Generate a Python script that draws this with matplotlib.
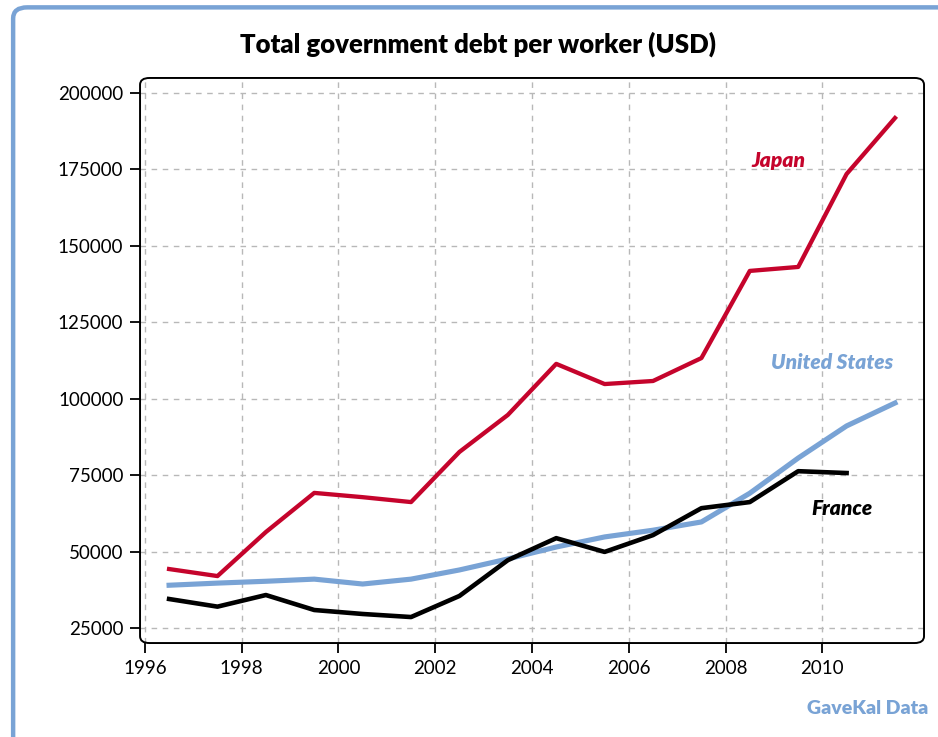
import matplotlib.pyplot as plt
from matplotlib.patches import FancyBboxPatch

# --- data (USD per worker) ---
years = [1996.5, 1997.5, 1998.5, 1999.5, 2000.5, 2001.5, 2002.5, 2003.5,
         2004.5, 2005.5, 2006.5, 2007.5, 2008.5, 2009.5, 2010.5, 2011.5]
japan = [44300, 42000, 56400, 69200, 67800, 66200, 82600, 94700,
         111400, 104800, 105800, 113300, 141800, 143100, 173500, 191800]
usa = [39000, 39700, 40300, 41000, 39400, 41000, 44000, 47600,
       51500, 54800, 57000, 59700, 69100, 80600, 91100, 98600]
france_years = years[:15]
france = [34500, 32000, 35800, 30900, 29600, 28600, 35500, 47200,
          54400, 49900, 55400, 64200, 66200, 76300, 75700]

xticks = [1996, 1998, 2000, 2002, 2004, 2006, 2008, 2010]
yticks = [25000, 50000, 75000, 100000, 125000, 150000, 175000, 200000]

RED = '#c5042c'
BLUE = '#79a3d5'
BLACK = '#000000'

plt.rcParams['font.family'] = ['Lato', 'DejaVu Sans']

fig = plt.figure(figsize=(9.38, 7.37), dpi=100)

# outer rounded frame
frame = FancyBboxPatch((0.014, -0.05), 1.2, 1.04, transform=fig.transFigure,
                       boxstyle='round,pad=0,rounding_size=0.015',
                       fill=False, edgecolor=BLUE, linewidth=3.2, clip_on=False)
fig.patches.append(frame)

ax = fig.add_axes([0.1493, 0.1275, 0.8358, 0.7667])

ax.plot(years, japan, color=RED, lw=3.1, zorder=3)
ax.plot(years, usa, color=BLUE, lw=3.7, zorder=3)
ax.plot(france_years, france, color=BLACK, lw=3.3, zorder=4)

ax.set_xlim(1995.9, 2012.1)
ax.set_ylim(20100, 204900)
ax.set_xticks(xticks)
ax.set_yticks(yticks)
ax.set_xticklabels([str(x) for x in xticks])
ax.set_yticklabels([str(y) for y in yticks])
ax.tick_params(axis='both', direction='out', length=7, width=1.3,
               labelsize=13.5, colors='black', pad=5)

ax.grid(True, linestyle=(0, (4, 4)), color='#b8b8b8', linewidth=1.0)
ax.set_axisbelow(True)

# rounded axes border instead of plain spines
for s in ax.spines.values():
    s.set_visible(False)
box = FancyBboxPatch((0, 0), 1, 1, transform=ax.transAxes,
                     boxstyle='round,pad=0,rounding_size=0.012',
                     fill=False, edgecolor='black', linewidth=1.4,
                     clip_on=False, zorder=5)
ax.add_patch(box)

lbl = dict(fontsize=15, style='italic', fontweight='heavy',
           ha='center', va='center')
ax.text(2009.1, 177800, 'Japan', color=RED, **lbl)
ax.text(2010.2, 111800, 'United States', color=BLUE, **lbl)
ax.text(2010.4, 64200, 'France', color=BLACK, **lbl)

fig.text(0.51, 0.94, 'Total government debt per worker (USD)', fontsize=18.5,
         fontweight='heavy', ha='center', va='center')
fig.text(0.99, 0.039, 'GaveKal Data', color=BLUE, fontsize=14,
         fontweight='heavy', ha='right', va='center')

fig.savefig('out.png', dpi=100)
